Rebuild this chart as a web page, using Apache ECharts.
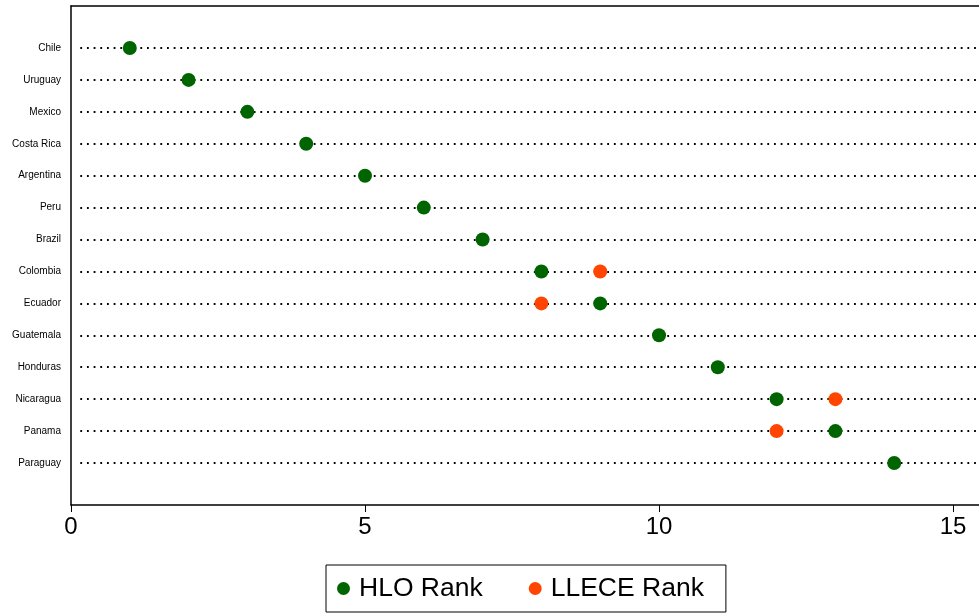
<!DOCTYPE html>
<html>
<head>
<meta charset="utf-8">
<script src="https://cdn.jsdelivr.net/npm/echarts@6/dist/echarts.min.js"></script>
<style>html,body{margin:0;padding:0;background:#fff}#c{width:979px;height:614px}</style>
</head>
<body>
<div id="c"></div>
<script>
const countries = ["Chile","Uruguay","Mexico","Costa Rica","Argentina","Peru","Brazil","Colombia","Ecuador","Guatemala","Honduras","Nicaragua","Panama","Paraguay"];
const hloRank = [1,2,3,4,5,6,7,8,9,10,11,12,13,14];
const lleceRank = [null,null,null,null,null,null,null,9,8,null,null,13,12,null];
const xTicks = [0,5,10,15];
const seriesNames = ["HLO Rank","LLECE Rank"];

const FONT = 'Liberation Sans, Arial, Helvetica, sans-serif';
const X_MAX = 15.5;
const PX_PER_UNIT = 911.4 / X_MAX;
const INSET = 7;
const chart = echarts.init(document.getElementById('c'), null, {renderer:'canvas'});
chart.setOption({
  animation:false,
  backgroundColor:'#fff',
  textStyle:{fontFamily:FONT},
  grid:[
    {left:71, width:911.4, top:6, bottom:109, show:false, containLabel:false, outerBoundsMode:'none'},
    {left:71 + INSET, width:911.4 - INSET, top:48, bottom:151, show:false, containLabel:false, outerBoundsMode:'none'}
  ],
  xAxis:[
    {gridIndex:0, type:'value', min:0, max:X_MAX, interval:5, position:'bottom',
     axisLine:{show:true, lineStyle:{color:'#000', width:1.5}},
     axisTick:{show:true, length:7, lineStyle:{color:'#000', width:1}, customValues:xTicks},
     axisLabel:{color:'#000', fontSize:24, fontFamily:FONT, margin:10, customValues:xTicks},
     splitLine:{show:false}},
    {gridIndex:1, type:'value', min:INSET / PX_PER_UNIT, max:X_MAX, show:false, splitLine:{show:false}},
    {gridIndex:0, type:'value', min:0, max:X_MAX, position:'top',
     axisLine:{show:true, lineStyle:{color:'#000', width:1.5}},
     axisTick:{show:false}, axisLabel:{show:false}, splitLine:{show:false}}
  ],
  yAxis:[
    {gridIndex:0, type:'value', min:0, max:1, position:'left',
     axisLine:{show:true, lineStyle:{color:'#000', width:1.5}},
     axisTick:{show:false}, axisLabel:{show:false}, splitLine:{show:false}},
    {gridIndex:1, type:'category', data:countries, inverse:true, boundaryGap:false,
     axisLine:{show:false}, axisTick:{show:false},
     axisLabel:{color:'#000', fontSize:10, fontFamily:FONT, margin:10 + INSET},
     splitLine:{show:true, lineStyle:{color:'#000', width:1.8, type:[1.8,4.87], dashOffset:-2.3}}}
  ],
  legend:{
    data:seriesNames, left:326, top:565, orient:'horizontal',
    borderColor:'#000', borderWidth:1, padding:[10,22,10,11],
    itemWidth:13, itemHeight:13, itemGap:46, icon:'circle',
    textStyle:{fontSize:26.5, color:'#000', fontFamily:FONT, padding:[0,0,0,4]}
  },
  series:[
    {name:seriesNames[0], type:'scatter', xAxisIndex:1, yAxisIndex:1, symbolSize:14, z:3,
     itemStyle:{color:'#006400', opacity:1},
     data:countries.map((c,i)=>[hloRank[i], c])},
    {name:seriesNames[1], type:'scatter', xAxisIndex:1, yAxisIndex:1, symbolSize:14, z:2,
     itemStyle:{color:'#ff4500', opacity:1},
     data:countries.map((c,i)=>lleceRank[i]==null?null:[lleceRank[i], c]).filter(d=>d)}
  ]
});
</script>
</body>
</html>
